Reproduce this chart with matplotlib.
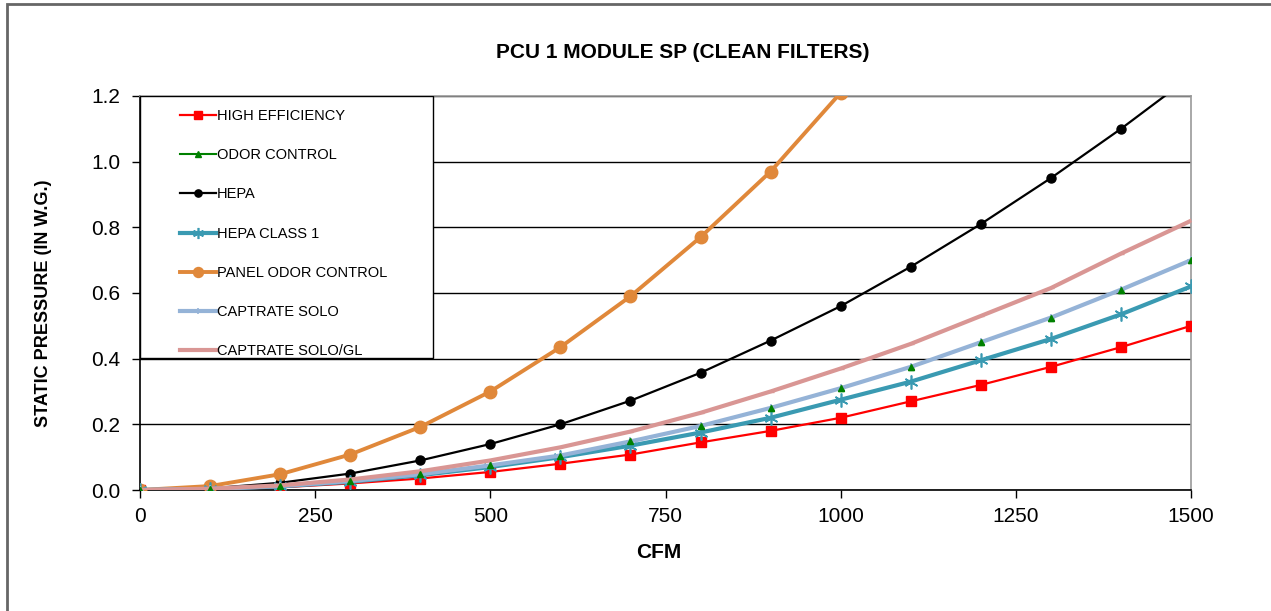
import matplotlib
matplotlib.use("Agg")
import matplotlib.pyplot as plt
from matplotlib.patches import Rectangle

plt.rcParams['font.family'] = ['Liberation Sans', 'DejaVu Sans']

cfm = [0, 100, 200, 300, 400, 500, 600, 700, 800, 900, 1000, 1100, 1200, 1300, 1400, 1500]

high_efficiency = [0, 0.002, 0.008, 0.02, 0.035, 0.055, 0.08, 0.108, 0.145, 0.18, 0.22, 0.27, 0.32, 0.375, 0.435, 0.50]
odor_control = [0, 0.003, 0.012, 0.027, 0.048, 0.075, 0.105, 0.148, 0.195, 0.25, 0.31, 0.375, 0.45, 0.525, 0.61, 0.70]
hepa = [0, 0.005, 0.022, 0.05, 0.09, 0.14, 0.20, 0.272, 0.357, 0.455, 0.56, 0.68, 0.81, 0.95, 1.10, 1.26]
hepa_class1 = [0, 0.003, 0.011, 0.025, 0.045, 0.07, 0.10, 0.135, 0.175, 0.22, 0.275, 0.33, 0.395, 0.46, 0.535, 0.62]
panel_odor = [0, 0.012, 0.048, 0.108, 0.192, 0.30, 0.435, 0.59, 0.77, 0.97, 1.21, 1.45, 1.73, 2.03, 2.35, 2.70]
captrate_solo = [0, 0.003, 0.012, 0.027, 0.048, 0.075, 0.105, 0.148, 0.195, 0.25, 0.31, 0.375, 0.45, 0.525, 0.61, 0.70]
captrate_solo_gl = [0, 0.004, 0.014, 0.032, 0.057, 0.09, 0.13, 0.178, 0.235, 0.30, 0.37, 0.445, 0.53, 0.615, 0.72, 0.82]

labels = ["HIGH EFFICIENCY", "ODOR CONTROL", "HEPA", "HEPA CLASS 1",
          "PANEL ODOR CONTROL", "CAPTRATE SOLO", "CAPTRATE SOLO/GL"]

title = "PCU 1 MODULE SP (CLEAN FILTERS)"
xlabel = "CFM"
ylabel = "STATIC PRESSURE (IN W.G.)"
xticks = [0, 250, 500, 750, 1000, 1250, 1500]
yticks = [0.0, 0.2, 0.4, 0.6, 0.8, 1.0, 1.2]

W, H = 1271, 611
fig = plt.figure(figsize=(W / 100, H / 100), dpi=100)
ax = fig.add_axes([140 / W, 1 - 490 / H, 1051 / W, 394 / H])

styles = [
    dict(color='#FF0000', lw=1.6, marker='s', ms=6.5, zorder=3),
    dict(color='#008000', lw=1.5, marker='^', ms=5, zorder=2),
    dict(color='#000000', lw=1.6, marker='o', ms=6.5, zorder=4),
    dict(color='#3A9AB2', lw=3.0, marker=(6, 2, 0), ms=10, mew=1.2, zorder=5),
    dict(color='#E0883A', lw=2.8, marker='o', ms=9, zorder=4),
    dict(color='#95B3D7', lw=3.0, marker='+', ms=6, mew=1.2, zorder=6),
    dict(color='#D99694', lw=3.0, marker='_', ms=5, zorder=7),
]
series = [high_efficiency, odor_control, hepa, hepa_class1, panel_odor, captrate_solo, captrate_solo_gl]

handles = []
for ys, st, lab in zip(series, styles, labels):
    ln, = ax.plot(cfm, ys, label=lab, **st)
    handles.append(ln)
# odor control markers drawn above the overlapping CAPTRATE SOLO line
ax.plot(cfm, odor_control, ls='none', marker='^', ms=5, color='#008000', zorder=8, label='_nolegend_')

ax.set_xlim(0, 1500)
ax.set_ylim(0, 1.2)
ax.set_xticks(xticks)
ax.set_yticks(yticks)
ax.set_yticklabels([f"{v:.1f}" for v in yticks])
ax.tick_params(axis='both', labelsize=15, color='black', direction='out', length=6, width=1)
ax.tick_params(axis='x', pad=6)
ax.tick_params(axis='y', pad=8)
ax.yaxis.grid(True, color='black', lw=1)
ax.set_axisbelow(True)
for s in ['left', 'bottom']:
    ax.spines[s].set_color('black')
    ax.spines[s].set_linewidth(1.2)
for s in ['top', 'right']:
    ax.spines[s].set_color('#9a9a9a')
    ax.spines[s].set_linewidth(1.2)

# legend
frame = Rectangle((0, (490 - 358) / 394), (433 - 140) / 1051, (358 - 96) / 394,
                  transform=ax.transAxes, facecolor='white', edgecolor='black', lw=1, zorder=9)
ax.add_patch(frame)
leg = ax.legend(handles=handles, loc='upper left',
                bbox_to_anchor=(180 / W, 1 - 109 / H), bbox_transform=fig.transFigure,
                frameon=False, fontsize=10.5, handlelength=2.5, handletextpad=0.05,
                labelspacing=1.73, borderpad=0, borderaxespad=0, markerscale=0.8)
leg.set_zorder(10)

fig.text(683 / W, 1 - 52 / H, title, ha='center', va='center', fontsize=15, fontweight='bold')
fig.text(659 / W, 1 - 553 / H, xlabel, ha='center', va='center', fontsize=15, fontweight='bold')
fig.text(44 / W, 1 - 303 / H, ylabel, ha='center', va='center', rotation=90, fontsize=13, fontweight='bold')

# outer border (left and top edges visible)
border = Rectangle((7 / W, -0.1), 1.2, (1 - 4 / H) + 0.1, transform=fig.transFigure,
                   facecolor='none', edgecolor='#666666', lw=2, zorder=0)
fig.patches.append(border)

fig.savefig("out.png", dpi=100)
